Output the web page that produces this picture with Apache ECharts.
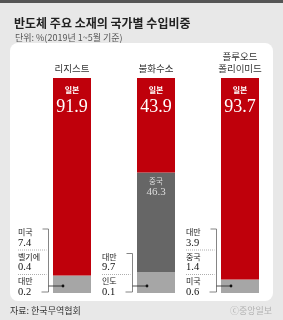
<!DOCTYPE html>
<html>
<head>
<meta charset="utf-8">
<script src="https://cdn.jsdelivr.net/npm/echarts@6/dist/echarts.min.js"></script>
<style>
html, body { margin: 0; padding: 0; background: #e8e8e8; }
#main { width: 283px; height: 320px; }
</style>
</head>
<body>
<div id="main"></div>
<script>
// 반도체 주요 소재의 국가별 수입비중 (%)
var categories = ['리지스트', '불화수소', '플루오드\n폴리이미드'];
var japan = [91.9, 43.9, 93.7];
var china = [0, 46.3, 0];
var rest = [8.1, 9.8, 6.3];   // 일본·중국 외 나머지
var noteNames = [['미국', '벨기에', '대만'], ['대만', '인도'], ['대만', '중국', '미국']];
var noteValues = [['7.4', '0.4', '0.2'], ['9.7', '0.1'], ['3.9', '1.4', '0.6']];

var SANS = '"Noto Sans CJK KR", "Noto Sans", sans-serif';
var SERIF = '"Liberation Serif", "DejaVu Serif", serif';

var chart = echarts.init(document.getElementById('main'));

var option = {
    backgroundColor: '#e8e8e8',
    animation: false,
    title: [
        {
            text: '반도체 주요 소재의 국가별 수입비중',
            left: 9, top: 12,
            textStyle: { fontFamily: SANS, fontSize: 12, fontWeight: 'bold', color: '#222' }
        },
        {
            text: '단위: %(2019년 1~5월 기준)',
            left: 10, top: 28,
            textStyle: { fontFamily: SANS, fontSize: 9, fontWeight: 'normal', color: '#555' }
        }
    ],
    grid: { left: 30, right: 1, top: 78, bottom: 27 },
    xAxis: {
        type: 'category',
        position: 'top',
        data: categories,
        axisLine: { show: false },
        axisTick: { show: false },
        axisLabel: { margin: 4, fontFamily: SANS, fontSize: 9.5, lineHeight: 12, color: '#333' }
    },
    yAxis: { type: 'value', min: 0, max: 100, show: false },
    series: [
        {
            name: '기타', type: 'bar', stack: 'a', barWidth: 38,
            itemStyle: { color: '#a6a6a6' },
            data: rest
        },
        {
            name: '중국', type: 'bar', stack: 'a', barWidth: 38,
            itemStyle: { color: '#666666' },
            label: {
                show: true, position: 'insideTop', distance: 4,
                formatter: function (p) { return p.value ? '{a|중국}\n{b|' + p.value + '}' : ''; },
                rich: {
                    a: { fontFamily: SANS, fontSize: 7.5, color: '#ddd', lineHeight: 10 },
                    b: { fontFamily: SERIF, fontSize: 11, color: '#ddd', lineHeight: 12 }
                }
            },
            data: china
        },
        {
            name: '일본', type: 'bar', stack: 'a', barWidth: 38,
            itemStyle: { color: '#bf000b' },
            label: {
                show: true, position: 'insideTop', distance: 5,
                formatter: function (p) { return '{a|일본}\n{b|' + p.value + '}'; },
                rich: {
                    a: { fontFamily: SANS, fontSize: 8, fontWeight: 'bold', color: '#fff', lineHeight: 14 },
                    b: { fontFamily: SERIF, fontSize: 18, color: '#fff', lineHeight: 20 }
                }
            },
            data: japan
        }
    ],
    graphic: [
        { type: 'rect', z: -10, silent: true, shape: { x: 0, y: 0, width: 283, height: 3 }, style: { fill: '#555' } },
        { type: 'rect', z: -10, silent: true, shape: { x: 10, y: 43, width: 263, height: 258, r: 8 }, style: { fill: '#fff' } },
        { type: 'text', x: 10, y: 311, style: { text: '자료: 한국무역협회', font: '9px ' + SANS, fill: '#333', verticalAlign: 'middle' } },
        { type: 'text', x: 272, y: 311, style: { text: 'ⓒ중앙일보', font: '9px ' + SANS, fill: '#b0b0b0', align: 'right', verticalAlign: 'middle' } }
    ]
};
chart.setOption(option);

// 막대 왼쪽 주석(국가명/비중)과 괄호선
var extra = [];
for (var i = 0; i < categories.length; i++) {
    var p = chart.convertToPixel({ seriesIndex: 0 }, [i, 0]);
    var barLeft = p[0] - 19;
    var bottom = p[1];
    var n = noteNames[i].length;
    var itemH = 24.5;
    var textX = barLeft - 35;
    var bx = barLeft - 4.5;
    var firstY = bottom - 12 - (n - 1) * itemH;
    for (var k = 0; k < n; k++) {
        var ny = firstY + k * itemH;
        extra.push({ type: 'text', z: 100, x: textX, y: ny, style: { text: noteNames[i][k], font: '8px ' + SANS, fill: '#222', verticalAlign: 'middle' } });
        extra.push({ type: 'text', z: 100, x: textX, y: ny + 11, style: { text: noteValues[i][k], font: '10.5px ' + SERIF, fill: '#111', verticalAlign: 'middle' } });
        if (k > 0) {
            extra.push({ type: 'line', z: 100, shape: { x1: textX, y1: ny - 6.5, x2: bx - 2, y2: ny - 6.5 }, style: { stroke: '#999', lineWidth: 0.8, lineDash: [1, 1] } });
        }
    }
    var topY = firstY - 3;
    var botY = bottom - 1;
    extra.push({ type: 'polyline', z: 100, shape: { points: [[bx - 6, topY], [bx, topY], [bx, botY], [bx - 7, botY]] }, style: { stroke: '#666', lineWidth: 0.8, fill: null } });
    extra.push({ type: 'line', z: 100, shape: { x1: bx, y1: bottom - 7, x2: barLeft + 10, y2: bottom - 7 }, style: { stroke: '#222', lineWidth: 0.8 } });
    extra.push({ type: 'circle', z: 100, shape: { cx: barLeft + 10, cy: bottom - 7, r: 1.4 }, style: { fill: '#111' } });
}
chart.setOption({ graphic: option.graphic.concat(extra) });
</script>
</body>
</html>
